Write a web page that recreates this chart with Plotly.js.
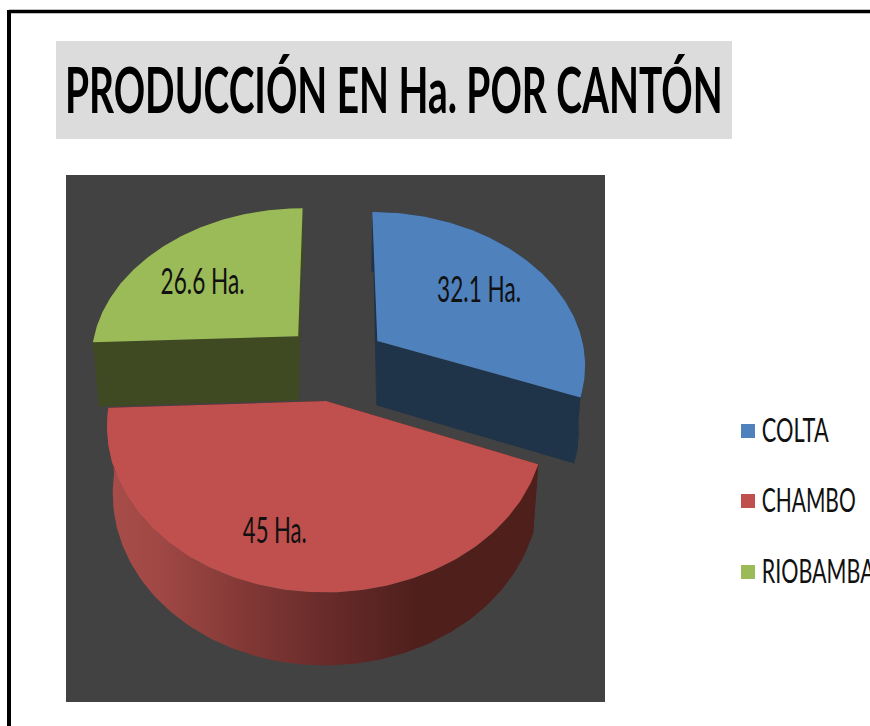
<!DOCTYPE html>
<html><head><meta charset="utf-8">
<script src="https://cdn.plot.ly/plotly-3.0.1.min.js"></script>
<style>html,body{margin:0;padding:0;background:#fff;overflow:hidden}#chart{width:870px;height:726px}</style>
</head><body><div id="chart"></div>
<script>
const titleText = 'PRODUCCIÓN EN Ha. POR CANTÓN';
const categories = ['COLTA', 'CHAMBO', 'RIOBAMBA'];
const values = [32.1, 45, 26.6];
const sliceLabels = ['32.1 Ha.', '45 Ha.', '26.6 Ha.'];
const topColors = ['#4f81bd', '#c0504d', '#9bbb59'];
const sideColors = ['#1f3349', '#4f1f1c', '#3f4a23'];
const drawOrder = [2, 0, 1];
const labelRadius = [0.643, 0.738, 0.632];
const labelAngleShift = [0, 7.5, -6.5];
const legendY = [431, 501, 572];
const FONT = 'Lato, "Open Sans", sans-serif';
/* the reference's lettering is tall and narrow: target widths and nudges in px */
const textFit = {
  '32.1 Ha.': [84, 0, 2], '45 Ha.': [64, 2, 4], '26.6 Ha.': [84, 0, 2],
  'COLTA': [67, 4, 3], 'CHAMBO': [94, 4, 3], 'RIOBAMBA': [113, 4, 3]
};

/* perspective view of the tilted pie */
const cx = 335, cy = 362, R = 209, B = 152.6, K = 0.14, H = 65, SHRINK = 0.975, EXPLODE = 0.25;
const rad = d => d * Math.PI / 180;
function project(u, v, drop) {
  const d = 1 - K * v;
  const s = drop ? SHRINK : 1;
  return [cx + s * R * u / d, cy + (s * B * v + drop) / d];
}
const total = values.reduce((a, b) => a + b, 0);
let acc = 0;
const slices = values.map(v => {
  const a0 = acc / total * 360; acc += v;
  return {a0, a1: acc / total * 360};
});
function ringPoint(s, deg, r, drop) {
  const mid = rad((s.a0 + s.a1) / 2);
  const u = r * Math.sin(rad(deg)) + EXPLODE * Math.sin(mid);
  const v = -r * Math.cos(rad(deg)) + EXPLODE * -Math.cos(mid);
  return project(u, v, drop);
}
function arc(s, drop, reverse) {
  const pts = [], n = Math.ceil(s.a1 - s.a0);
  for (let i = 0; i <= n; i++) pts.push(ringPoint(s, s.a0 + (s.a1 - s.a0) * i / n, 1, drop));
  return reverse ? pts.reverse() : pts;
}
function poly(pts, color, name, extra) {
  return Object.assign({
    type: 'scatter', mode: 'lines', x: pts.map(p => p[0]), y: pts.map(p => p[1]),
    fill: 'toself', fillcolor: color, line: {width: 0, color: color},
    hoverinfo: 'skip', showlegend: false, name: name
  }, extra || {});
}
function cutFace(s, deg, side, name) {
  const apexTop = ringPoint(s, deg, 0, 0), apexLow = ringPoint(s, deg, 0, H);
  const rear = Math.cos(rad(deg)) > 0.9;
  const pts = rear
    ? [apexTop, ringPoint(s, deg, 1, 0), apexLow]
    : [apexTop, ringPoint(s, deg, 1, 0), ringPoint(s, deg, 1, H), apexLow];
  return poly(pts, side, name);
}
const traces = [];
drawOrder.forEach(i => {
  const s = slices[i], name = categories[i], side = sideColors[i];
  traces.push(cutFace(s, s.a0, side, name));
  traces.push(cutFace(s, s.a1, side, name));
  const rim = arc(s, 0, false).concat(arc(s, H, true));
  const extra = i === 1 ? {fillgradient: {type: 'horizontal', colorscale: [
    [0, '#a84d49'], [0.12, '#a04845'], [0.3, '#853a37'], [0.5, '#692c2a'], [0.72, '#4f1f1c'], [1, '#4f1f1c']
  ]}} : {};
  traces.push(poly(rim, side, name, extra));
  traces.push(poly([ringPoint(s, s.a0, 0, 0)].concat(arc(s, 0, false)), topColors[i], name));
});
/* slice labels */
values.forEach((v, i) => {
  const s = slices[i];
  const p = ringPoint(s, (s.a0 + s.a1) / 2 + labelAngleShift[i], labelRadius[i], 0);
  traces.push({type: 'scatter', mode: 'text', x: [p[0]], y: [p[1]], text: [sliceLabels[i]],
    textposition: 'middle center', hoverinfo: 'skip', showlegend: false,
    textfont: {family: FONT, size: 37, color: '#111'}});
});
/* legend */
categories.forEach((c, i) => {
  traces.push({type: 'scatter', mode: 'markers+text', x: [748], y: [legendY[i]], text: [c],
    textposition: 'middle right', name: c, showlegend: false, hoverinfo: 'skip',
    marker: {symbol: 'square', size: 14, color: topColors[i]},
    textfont: {family: FONT, size: 33, color: '#111'}});
});
const W = 870, HH = 726;
const py = y => 1 - y / HH;
const layout = {
  width: W, height: HH, margin: {l: 0, r: 0, t: 0, b: 0},
  paper_bgcolor: '#ffffff', plot_bgcolor: 'rgba(0,0,0,0)', showlegend: false,
  title: {text: titleText, x: 65 / W, xanchor: 'left', xref: 'paper', y: py(91), yanchor: 'middle', yref: 'paper',
    font: {family: FONT, size: 64, weight: 700, color: '#000'}},
  xaxis: {domain: [0, 1], range: [0, W], visible: false, fixedrange: true},
  yaxis: {domain: [0, 1], range: [HH, 0], visible: false, fixedrange: true},
  shapes: [
    {type: 'rect', xref: 'x', yref: 'y', x0: 66, x1: 605, y0: 175, y1: 702, fillcolor: '#424242', line: {width: 0}, layer: 'below'},
    {type: 'rect', xref: 'x', yref: 'y', x0: 56, x1: 732, y0: 41, y1: 139, fillcolor: '#dcdcdc', line: {width: 0}, layer: 'below'},
    {type: 'line', xref: 'x', yref: 'y', x0: 9, x1: W, y0: 11.5, y1: 11.5, line: {color: '#000', width: 3.5}},
    {type: 'line', xref: 'x', yref: 'y', x0: 9, x1: 9, y0: 10, y1: HH, line: {color: '#000', width: 4}}
  ]
};
function fitWidth(el, target, dx, dy) {
  const natural = el.getComputedTextLength();
  const x = parseFloat(el.getAttribute('x')) || 0;
  el.setAttribute('transform', 'translate(' + (x + dx) + ',' + dy + ') scale(' + (target / natural) + ',1) translate(' + (-x) + ',0)');
}
Plotly.newPlot('chart', traces, layout, {displayModeBar: false, staticPlot: true}).then(gd => {
  gd.querySelectorAll('.textpoint text').forEach(t => {
    const f = textFit[t.textContent];
    if (f) fitWidth(t, f[0], f[1], f[2]);
  });
  const title = gd.querySelector('.gtitle');
  if (title) fitWidth(title, 658, 0, 0);
});
</script></body></html>
